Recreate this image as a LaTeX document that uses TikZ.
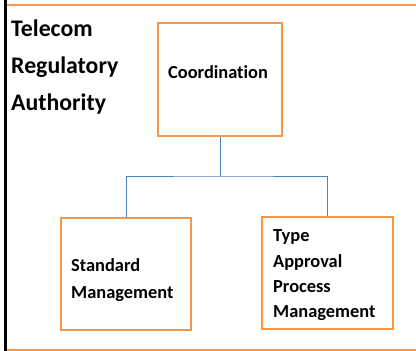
\documentclass[tikz,border=0pt]{standalone}
\usepackage{fontspec}
\setmainfont{Carlito}[Ligatures=NoCommon]
\definecolor{boxorange}{RGB}{247,150,70}
\definecolor{linkblue}{RGB}{79,129,189}
\tikzset{
  unit/.style={draw=boxorange, line width=2.4pt, inner sep=0pt},
  link/.style={draw=linkblue, line width=1pt},
  lbl/.style={font=\bfseries\fontsize{18.4}{26.5}\selectfont, align=left, inner sep=0pt, anchor=base west},
}

\begin{document}
\begin{tikzpicture}[x=1pt, y=-1pt]
    \useasboundingbox (0, 0) rectangle (416, 351);
    \draw[boxorange, line width=1.6pt] (7, 5) -- (416, 5);
    \draw[boxorange, line width=1.2pt] (7, 349.9) -- (416, 349.9);
    \draw[black, line width=2.6pt] (5.5, 0) -- (5.5, 351);

    \node[lbl, font=\bfseries\fontsize{23.8}{37}\selectfont] (TRA) at (11, 110) {Telecom\\Regulatory\\Authority};

    \node[unit, minimum width=124pt, minimum height=113pt] (C) at (220, 79.5) {};
    \node[unit, minimum width=130pt, minimum height=112pt] (S) at (126, 274) {};
    \node[unit, minimum width=131pt, minimum height=112pt] (T) at (327.5, 273) {};

    \node[lbl, anchor=base] (Ct) at (218, 78) {Coordination};
    \node[lbl] (St) at (71, 298) {Standard\\Management};
    \node[lbl, font=\bfseries\fontsize{18.4}{25.3}\selectfont] (Tt) at (273, 317.7) {Type\\Approval\\Process\\Management};

    \coordinate (J) at (220, 176);
    \draw[link] (C) -- (J);
    \draw[link] (S.north) |- (J) -| (T.north);
\end{tikzpicture}
\end{document}
